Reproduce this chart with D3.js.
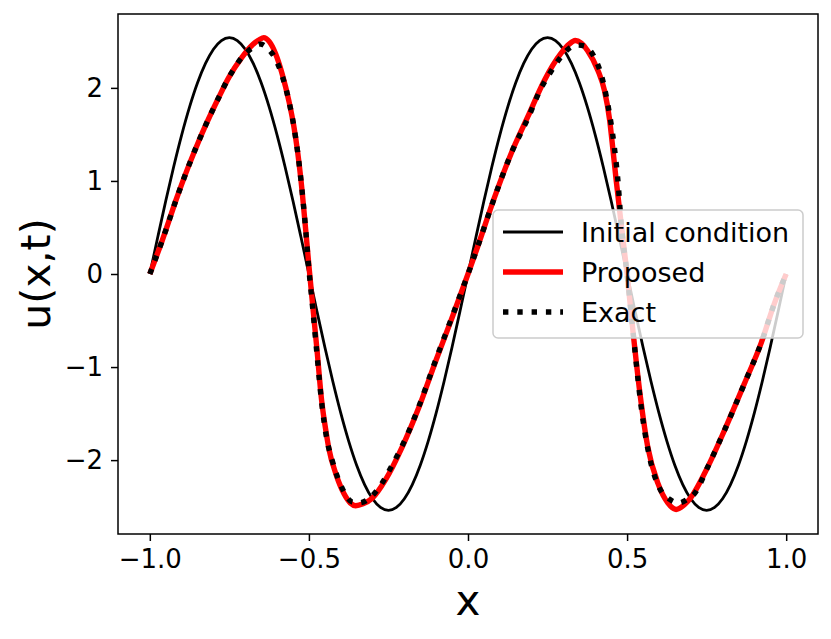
<!DOCTYPE html>
<html>
<head>
<meta charset="utf-8">
<script src="https://cdn.jsdelivr.net/npm/d3@7"></script>
<style>
  body { margin: 0; background: #fff; }
  text { font-family: "DejaVu Sans", sans-serif; }
</style>
</head>
<body>
<div id="chart"></div>
<script>
// data
const initX = [-1, -0.975, -0.95, -0.925, -0.9, -0.875, -0.85, -0.825, -0.8, -0.775, -0.75, -0.725, -0.7, -0.675, -0.65, -0.625, -0.6, -0.575, -0.55, -0.525,
               -0.5, -0.475, -0.45, -0.425, -0.4, -0.375, -0.35, -0.325, -0.3, -0.275, -0.25, -0.225, -0.2, -0.175, -0.15, -0.125, -0.1, -0.075, -0.05, -0.025,
               0, 0.025, 0.05, 0.075, 0.1, 0.125, 0.15, 0.175, 0.2, 0.225, 0.25, 0.275, 0.3, 0.325, 0.35, 0.375, 0.4, 0.425, 0.45, 0.475,
               0.5, 0.525, 0.55, 0.575, 0.6, 0.625, 0.65, 0.675, 0.7, 0.725, 0.75, 0.775, 0.8, 0.825, 0.85, 0.875, 0.9, 0.925, 0.95, 0.975, 1];
const initU = [0, 0.397, 0.785, 1.153, 1.493, 1.796, 2.055, 2.263, 2.416, 2.509, 2.54, 2.509, 2.416, 2.263, 2.055, 1.796, 1.493, 1.153, 0.785, 0.397,
               0, -0.397, -0.785, -1.153, -1.493, -1.796, -2.055, -2.263, -2.416, -2.509, -2.54, -2.509, -2.416, -2.263, -2.055, -1.796, -1.493, -1.153, -0.785, -0.397,
               0, 0.397, 0.785, 1.153, 1.493, 1.796, 2.055, 2.263, 2.416, 2.509, 2.54, 2.509, 2.416, 2.263, 2.055, 1.796, 1.493, 1.153, 0.785, 0.397,
               0, -0.397, -0.785, -1.153, -1.493, -1.796, -2.055, -2.263, -2.416, -2.509, -2.54, -2.509, -2.416, -2.263, -2.055, -1.796, -1.493, -1.153, -0.785, -0.397, 0];

const propX = [-1.0, -0.961, -0.914, -0.877, -0.846, -0.823, -0.783, -0.752, -0.710, -0.678, -0.655, -0.642, -0.625, -0.605, -0.584, -0.563, -0.547, -0.535, -0.525, -0.510,
               -0.500, -0.490, -0.475, -0.460, -0.445, -0.437, -0.416, -0.390, -0.370, -0.353, -0.330, -0.301, -0.259, -0.207, -0.154, -0.102, -0.049,
               0.0, 0.030, 0.083, 0.135, 0.188, 0.240, 0.292, 0.318, 0.337, 0.356, 0.376, 0.408, 0.429, 0.445, 0.456, 0.465, 0.482,
               0.500, 0.518, 0.530, 0.544, 0.565, 0.597, 0.628, 0.654, 0.680, 0.701, 0.754, 0.806, 0.869, 0.921, 0.963, 1.0];
const propU = [0, 0.36, 0.83, 1.17, 1.43, 1.61, 1.90, 2.11, 2.33, 2.46, 2.52, 2.54, 2.50, 2.37, 2.15, 1.86, 1.58, 1.30, 1.01, 0.47,
               0.09, -0.27, -0.80, -1.36, -1.72, -1.88, -2.14, -2.36, -2.46, -2.49, -2.47, -2.41, -2.21, -1.86, -1.43, -0.94, -0.46,
               0.0, 0.29, 0.82, 1.29, 1.69, 2.08, 2.37, 2.47, 2.51, 2.48, 2.40, 2.19, 1.97, 1.66, 1.32, 1.03, 0.52,
               0.0, -0.60, -0.98, -1.38, -1.86, -2.25, -2.46, -2.53, -2.48, -2.40, -2.07, -1.68, -1.175, -0.745, -0.315, 0];

const exactX = [-1.0, -0.961, -0.914, -0.877, -0.846, -0.823, -0.783, -0.752, -0.710, -0.673, -0.652, -0.628, -0.605, -0.584, -0.563, -0.547, -0.535, -0.525, -0.510,
                -0.500, -0.490, -0.475, -0.460, -0.445, -0.427, -0.393, -0.364, -0.342, -0.317, -0.285, -0.233, -0.191, -0.154, -0.102, -0.049,
                0.0, 0.030, 0.083, 0.135, 0.188, 0.230, 0.256, 0.287, 0.324, 0.345, 0.366, 0.397, 0.418, 0.439, 0.460, 0.470, 0.482,
                0.500, 0.518, 0.530, 0.544, 0.570, 0.602, 0.633, 0.662, 0.690, 0.712, 0.754, 0.806, 0.869, 0.921, 0.963, 1.0];
const exactU = [0, 0.36, 0.83, 1.17, 1.43, 1.61, 1.90, 2.11, 2.33, 2.44, 2.47, 2.42, 2.31, 2.13, 1.86, 1.58, 1.30, 1.01, 0.47,
                0.05, -0.30, -0.85, -1.38, -1.75, -2.00, -2.32, -2.45, -2.46, -2.43, -2.32, -2.02, -1.73, -1.42, -0.93, -0.45,
                0.0, 0.29, 0.82, 1.29, 1.67, 2.00, 2.15, 2.31, 2.44, 2.46, 2.45, 2.33, 2.15, 1.83, 1.36, 1.05, 0.52,
                0.0, -0.60, -1.00, -1.42, -1.96, -2.30, -2.42, -2.46, -2.42, -2.36, -2.07, -1.68, -1.175, -0.745, -0.315, 0];

const xTicks = [-1.0, -0.5, 0.0, 0.5, 1.0];
const yTicks = [-2, -1, 0, 1, 2];
const legendLabels = ["Initial condition", "Proposed", "Exact"];

// set the dimensions and margins of the graph
let margin = {top: 14, right: 13, bottom: 105, left: 118},
    width = 831 - margin.left - margin.right,
    height = 639 - margin.top - margin.bottom;

let svg = d3.select("#chart")
    .append("svg")
    .attr("width", 831)
    .attr("height", 639)
    .append("g")
    .attr("transform", "translate(" + margin.left + "," + margin.top + ")");

let x = d3.scaleLinear().domain([-1.1, 1.1]).range([0, width]);
let y = d3.scaleLinear().domain([-2.794, 2.794]).range([height, 0]);

function toPoints(xs, us) {
    return xs.map((v, i) => ({x: v, u: us[i]}));
}

let line = d3.line()
    .x(d => x(d.x))
    .y(d => y(d.u))
    .curve(d3.curveMonotoneX);

// initial condition
svg.append("path")
    .datum(toPoints(initX, initU))
    .attr("fill", "none")
    .attr("stroke", "black")
    .attr("stroke-width", 2.8)
    .attr("d", line);

// proposed
svg.append("path")
    .datum(toPoints(propX, propU))
    .attr("fill", "none")
    .attr("stroke", "red")
    .attr("stroke-width", 5.4)
    .attr("stroke-linejoin", "round")
    .attr("d", line);

// exact
svg.append("path")
    .datum(toPoints(exactX, exactU))
    .attr("fill", "none")
    .attr("stroke", "black")
    .attr("stroke-width", 5.4)
    .attr("stroke-dasharray", "5.4,8.9")
    .attr("d", line);

// axes
let xAxis = svg.append("g")
    .attr("transform", "translate(0," + height + ")")
    .call(d3.axisBottom(x).tickValues(xTicks).tickFormat(d3.format(".1f"))
          .tickSize(7).tickSizeOuter(0).tickPadding(9));
let yAxis = svg.append("g")
    .call(d3.axisLeft(y).tickValues(yTicks).tickFormat(d3.format("d"))
          .tickSize(7).tickSizeOuter(0).tickPadding(8));

[xAxis, yAxis].forEach(a => {
    a.select(".domain").remove();
    a.selectAll("line").attr("stroke", "black").attr("stroke-width", 1.5);
    a.selectAll("text").attr("fill", "black")
        .style("font-size", "26px").style("font-family", "'DejaVu Sans', sans-serif");
});

// frame
svg.append("rect")
    .attr("width", width)
    .attr("height", height)
    .attr("fill", "none")
    .attr("stroke", "black")
    .attr("stroke-width", 1.5);

// axis labels
svg.append("text")
    .attr("x", width / 2)
    .attr("y", 615 - margin.top)
    .attr("text-anchor", "middle")
    .style("font-size", "42px")
    .text("x");

svg.append("text")
    .attr("transform", "translate(" + (50 - margin.left) + "," + (height / 2) + ") rotate(-90)")
    .attr("text-anchor", "middle")
    .style("font-size", "41px")
    .text("u(x,t)");

// legend
let legend = svg.append("g")
    .attr("transform", "translate(" + (493 - margin.left) + "," + (210 - margin.top) + ")");

legend.append("rect")
    .attr("width", 310)
    .attr("height", 128)
    .attr("rx", 5)
    .attr("fill", "white")
    .attr("fill-opacity", 0.8)
    .attr("stroke", "#cccccc")
    .attr("stroke-width", 1.5);

let styles = [
    {stroke: "black", width: 2.8, dash: null},
    {stroke: "red", width: 5.4, dash: null},
    {stroke: "black", width: 5.4, dash: "5.4,8.9"}
];

legendLabels.forEach((lab, i) => {
    let cy = 22 + i * 40;
    legend.append("line")
        .attr("x1", 10).attr("x2", 70)
        .attr("y1", cy).attr("y2", cy)
        .attr("stroke", styles[i].stroke)
        .attr("stroke-width", styles[i].width)
        .attr("stroke-dasharray", styles[i].dash);
    legend.append("text")
        .attr("x", 88)
        .attr("y", cy + 9.5)
        .style("font-size", "27px")
        .text(lab);
});
</script>
</body>
</html>
